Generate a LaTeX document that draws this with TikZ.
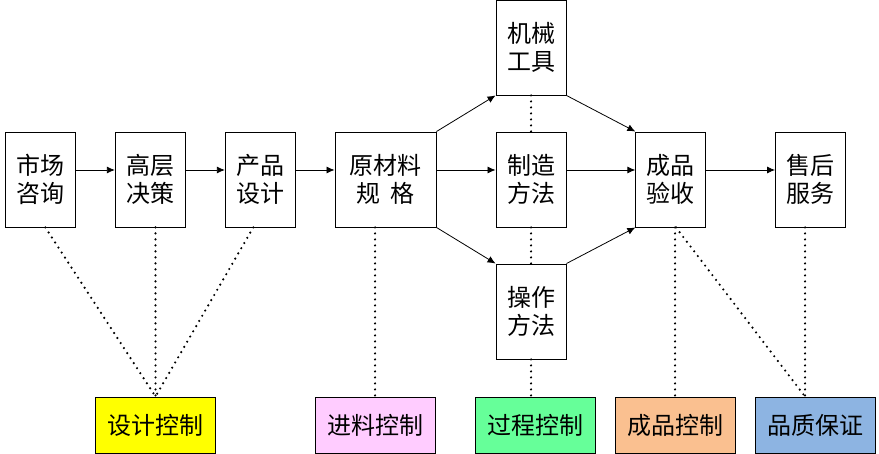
\documentclass[tikz,border=0pt]{standalone}
\usepackage{fontspec}
\newfontfamily\cjk{Noto Sans CJK SC}
\usepackage{tikz}
\usetikzlibrary{arrows.meta}
\tikzset{>=latex}
\definecolor{design yellow}{HTML}{FFFF00}
\definecolor{input pink}{HTML}{FFCCFF}
\definecolor{process green}{HTML}{66FF99}
\definecolor{product orange}{HTML}{FAC090}
\definecolor{quality blue}{HTML}{8DB4E2}
\tikzstyle{stage}=[draw=black,line width=0.9,minimum width=70,minimum height=95,
                   inner sep=0,align=center,font=\cjk\fontsize{24}{28}\selectfont]
\tikzstyle{control}=[draw=black,line width=0.9,minimum width=120,minimum height=56,
                     inner sep=0,font=\cjk\fontsize{24}{28}\selectfont]
\tikzstyle{flow}=[-{Latex[length=8,width=7]},black,line width=0.8]
\tikzstyle{link}=[black,line width=2.4,line cap=round,dash pattern=on 0pt off 6pt]

\begin{document}
\begin{tikzpicture}[x=1pt,y=-1pt]
            \useasboundingbox (0,0) rectangle (879,454);
            \def\yrow{179.5} % middle of the main row
            \def\ylow{425} % middle of the control row
            \def\up{9.5} % arrows sit above the middle

            % STAGES
            \node[stage] (sczx) at (40.3,\yrow) {市场\\咨询};
            \node[stage] (gcjc) at (150.3,\yrow) {高层\\决策};
            \node[stage] (cpsj) at (260.3,\yrow) {产品\\设计};
            \node[stage,minimum width=101] (yclgg) at (385.5,\yrow) {原材料\\规\hspace{0.4em}格};
            \node[stage] (jxgj) at (531,47.5) {机械\\工具};
            \node[stage] (zzff) at (531,\yrow) {制造\\方法};
            \node[stage] (czff) at (531,311.5) {操作\\方法};
            \node[stage] (cpys) at (670.8,\yrow) {成品\\验收};
            \node[stage] (shfw) at (810.5,\yrow) {售后\\服务};

            % CONTROLS
            \node[control,fill=design yellow]  (sjkz) at (155.5,\ylow) {设计控制};
            \node[control,fill=input pink]     (jlkz) at (375,\ylow) {进料控制};
            \node[control,fill=process green]  (gckz) at (535,\ylow) {过程控制};
            \node[control,fill=product orange] (cpkz) at (675,\ylow) {成品控制};
            \node[control,fill=quality blue]   (pzbz) at (815,\ylow) {品质保证};

            % ARROWS
            \draw[flow] ([yshift=\up]sczx.east) -- ([yshift=\up]gcjc.west);
            \draw[flow] ([yshift=\up]gcjc.east) -- ([yshift=\up]cpsj.west);
            \draw[flow] ([yshift=\up]cpsj.east) -- ([yshift=\up]yclgg.west);
            \draw[flow] ([yshift=\up]yclgg.east) -- ([yshift=\up]zzff.west);
            \draw[flow] ([yshift=\up]zzff.east) -- ([yshift=\up]cpys.west);
            \draw[flow] ([yshift=\up]cpys.east) -- ([yshift=\up]shfw.west);
            \draw[flow] (yclgg.north east) -- (jxgj.south west);
            \draw[flow] (yclgg.south east) -- (czff.north west);
            \draw[flow] (jxgj.south east) -- (cpys.north west);
            \draw[flow] (czff.north east) -- (cpys.south west);

            % DOTTED LINKS
            \coordinate (pz) at ([xshift=-10]pzbz.north);
            \draw[link] ([xshift=5]sczx.south) -- (sjkz.north);
            \draw[link] (gcjc.south -| sjkz.north) -- (sjkz.north);
            \draw[link] ([xshift=-7]cpsj.south) -- (sjkz.north);
            \draw[link] (yclgg.south -| jlkz.north) -- (jlkz.north);
            \draw[link] (jxgj.south) -- (zzff.north);
            \draw[link] (zzff.south) -- (czff.north);
            \draw[link] (czff.south) -- (czff.south |- gckz.north);
            \draw[link] (cpys.south -| cpkz.north) -- (cpkz.north);
            \draw[link] ([xshift=1]cpys.south -| cpkz.north) -- (pz);
            \draw[link] (shfw.south -| pz) -- (pz);

\end{tikzpicture}
\end{document}
